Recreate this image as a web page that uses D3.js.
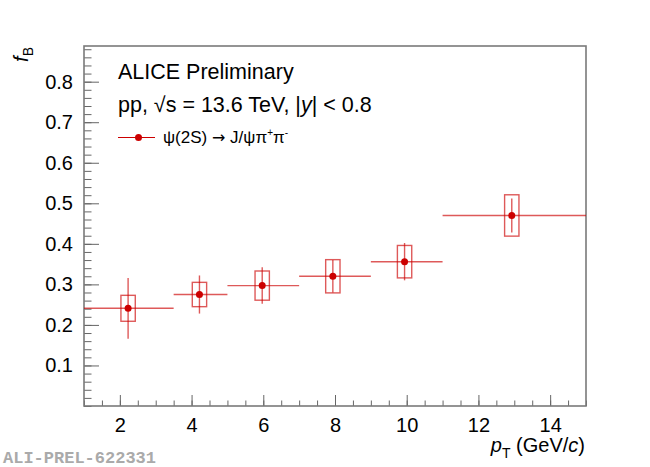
<!DOCTYPE html>
<html>
<head>
<meta charset="utf-8">
<script src="https://cdn.jsdelivr.net/npm/d3@7"></script>
<style>
  body { margin: 0; background: #fff; }
  svg { font-family: "Liberation Sans", Arial, sans-serif; }
</style>
</head>
<body>
<div id="chart"></div>
<script>
// pT bins (GeV/c)
const binLo = [1, 3.5, 5, 7, 9, 11];
const binHi = [3.5, 5, 7, 9, 11, 15];
// mean pT inside each bin
const ptMean = [2.23, 4.22, 5.97, 7.94, 9.94, 12.93];
// non-prompt fraction f_B
const fB = [0.241, 0.275, 0.297, 0.320, 0.356, 0.470];
const statErr = [0.075, 0.047, 0.045, 0.040, 0.046, 0.042];
const sysErr = [0.032, 0.030, 0.036, 0.041, 0.040, 0.051];
const sysHalfWidth = 0.2;

const xTicks = [2, 4, 6, 8, 10, 12, 14];
const yTicks = [0.1, 0.2, 0.3, 0.4, 0.5, 0.6, 0.7, 0.8];

const width = 650, height = 467;
const margin = {top: 46, right: 64, bottom: 61, left: 84};

const svg = d3.select("#chart").append("svg")
    .attr("width", width)
    .attr("height", height);

const x = d3.scaleLinear()
    .domain([1, 15])
    .range([margin.left, width - margin.right]);

const y = d3.scaleLinear()
    .domain([0, 0.888])
    .range([height - margin.bottom, margin.top]);

const tickColor = "#666";
const red = "#cc0000";

// minor ticks
svg.append("g")
    .attr("transform", `translate(0,${y(0)})`)
    .call(d3.axisBottom(x).tickValues(d3.range(1, 15.01, 0.5)).tickSizeInner(-5.5).tickSizeOuter(0).tickFormat(""))
    .call(g => g.select(".domain").remove())
    .call(g => g.selectAll("line").attr("stroke", tickColor));

svg.append("g")
    .attr("transform", `translate(${x(1)},0)`)
    .call(d3.axisLeft(y).tickValues(d3.range(0, 0.881, 0.02)).tickSizeInner(-7.5).tickSizeOuter(0).tickFormat(""))
    .call(g => g.select(".domain").remove())
    .call(g => g.selectAll("line").attr("stroke", tickColor));

// major ticks + labels
const xAxis = d3.axisBottom(x)
    .tickValues(xTicks)
    .tickSizeInner(-11)
    .tickSizeOuter(0)
    .tickPadding(12)
    .tickFormat(d3.format("d"));

svg.append("g")
    .attr("transform", `translate(0,${y(0)})`)
    .call(xAxis)
    .call(g => g.select(".domain").remove())
    .call(g => g.selectAll("line").attr("stroke", tickColor))
    .call(g => g.selectAll("text").attr("fill", "#000")
        .style("font-size", "20px")
        .style("font-family", "'Liberation Sans', Arial, sans-serif"));

const yAxis = d3.axisLeft(y)
    .tickValues(yTicks)
    .tickSizeInner(-15)
    .tickSizeOuter(0)
    .tickPadding(11)
    .tickFormat(d3.format(".1f"));

svg.append("g")
    .attr("transform", `translate(${x(1)},0)`)
    .call(yAxis)
    .call(g => g.select(".domain").remove())
    .call(g => g.selectAll("line").attr("stroke", tickColor))
    .call(g => g.selectAll("text").attr("fill", "#000")
        .style("font-size", "20px")
        .style("font-family", "'Liberation Sans', Arial, sans-serif"));

// frame
svg.append("rect")
    .attr("x", x(1))
    .attr("y", y(0.888))
    .attr("width", x(15) - x(1))
    .attr("height", y(0) - y(0.888))
    .attr("fill", "none")
    .attr("stroke", "#7a7a7a")
    .attr("stroke-width", 1.6);

// data
const data = fB.map((v, i) => ({
    lo: binLo[i], hi: binHi[i], pt: ptMean[i], v: v, stat: statErr[i], sys: sysErr[i]
}));

const pts = svg.append("g");

pts.selectAll(".sys")
    .data(data)
    .enter().append("rect")
    .attr("x", d => x(d.pt - sysHalfWidth))
    .attr("y", d => y(d.v + d.sys))
    .attr("width", d => x(d.pt + sysHalfWidth) - x(d.pt - sysHalfWidth))
    .attr("height", d => y(d.v - d.sys) - y(d.v + d.sys))
    .attr("fill", "none")
    .attr("stroke", red)
    .attr("stroke-opacity", 0.65)
    .attr("stroke-width", 1.4);

pts.selectAll(".hbar")
    .data(data)
    .enter().append("line")
    .attr("x1", d => x(d.lo))
    .attr("x2", d => x(d.hi))
    .attr("y1", d => y(d.v))
    .attr("y2", d => y(d.v))
    .attr("stroke", red)
    .attr("stroke-opacity", 0.65)
    .attr("stroke-width", 1.4);

pts.selectAll(".vbar")
    .data(data)
    .enter().append("line")
    .attr("x1", d => x(d.pt))
    .attr("x2", d => x(d.pt))
    .attr("y1", d => y(d.v + d.stat))
    .attr("y2", d => y(d.v - d.stat))
    .attr("stroke", red)
    .attr("stroke-opacity", 0.65)
    .attr("stroke-width", 1.4);

pts.selectAll("circle")
    .data(data)
    .enter().append("circle")
    .attr("cx", d => x(d.pt))
    .attr("cy", d => y(d.v))
    .attr("r", 3.5)
    .attr("fill", red);

// axis titles
const yTitle = svg.append("text")
    .attr("transform", "translate(28,47) rotate(-90)")
    .attr("text-anchor", "end")
    .attr("font-size", 20);
yTitle.append("tspan").attr("font-style", "italic").text("f");
yTitle.append("tspan").attr("font-size", 14).attr("dy", 5).text("B");

const xTitle = svg.append("text")
    .attr("x", x(15) - 1)
    .attr("y", 452)
    .attr("text-anchor", "end")
    .attr("font-size", 20);
xTitle.append("tspan").attr("font-style", "italic").text("p");
xTitle.append("tspan").attr("font-size", 14).attr("dy", 6).text("T");
xTitle.append("tspan").attr("dy", -6).text(" (GeV/");
xTitle.append("tspan").attr("font-style", "italic").text("c");
xTitle.append("tspan").text(")");

// labels
svg.append("text")
    .attr("x", 118)
    .attr("y", 79)
    .attr("font-size", 21.5)
    .text("ALICE Preliminary");

const sub = svg.append("text")
    .attr("x", 118)
    .attr("y", 112)
    .attr("font-size", 21.5);
sub.append("tspan").text("pp, √s = 13.6 TeV, |");
sub.append("tspan").attr("font-style", "italic").text("y");
sub.append("tspan").text("| < 0.8");

// legend
const legend = svg.append("g");
legend.append("line")
    .attr("x1", 118).attr("x2", 155)
    .attr("y1", 137.5).attr("y2", 137.5)
    .attr("stroke", red)
    .attr("stroke-width", 1.2);
legend.append("circle")
    .attr("cx", 138.5).attr("cy", 137.5)
    .attr("r", 3.5)
    .attr("fill", red);
const legText = legend.append("text")
    .attr("x", 163)
    .attr("y", 143)
    .attr("font-size", 17);
legText.append("tspan").text("ψ(2S) ");
legText.append("tspan").style("font-family", "'DejaVu Sans', sans-serif").style("font-size", "16px").text("→");
legText.append("tspan").text(" J/ψπ");
legText.append("tspan").attr("font-size", 10).attr("dy", -7).text("+");
legText.append("tspan").attr("font-size", 17).attr("dy", 7).text("π");
legText.append("tspan").attr("font-size", 10).attr("dy", -7).text("-");

// watermark
svg.append("text")
    .attr("x", 3)
    .attr("y", 463)
    .style("font-family", "'Liberation Mono', 'Courier New', monospace")
    .style("font-weight", "bold")
    .style("font-size", "17px")
    .attr("fill", "#aaa")
    .text("ALI-PREL-622331");
</script>
</body>
</html>
